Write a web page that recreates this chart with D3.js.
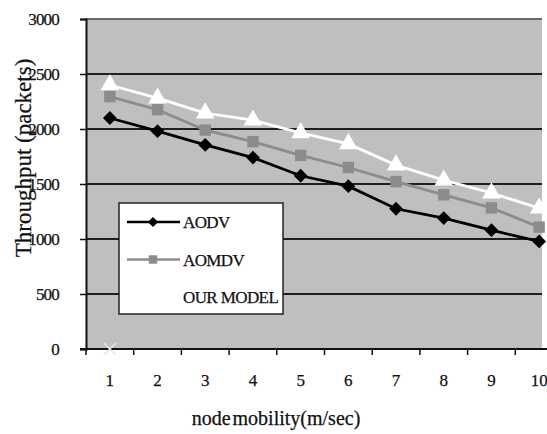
<!DOCTYPE html>
<meta charset="utf-8">
<style>
 body { margin: 0; background: #fff; }
 svg { display: block; }
 text { font-family: "Liberation Serif", "DejaVu Serif", serif; fill: #111; stroke: #111; stroke-width: 0.25px; }
</style>
<svg width="547" height="434"></svg>
<script src="https://d3js.org/d3.v7.min.js"></script>
<script>

 // values
 var mobility = [1, 2, 3, 4, 5, 6, 7, 8, 9, 10];
 var aodv     = [2100, 1980, 1855, 1740, 1575, 1480, 1275, 1190, 1080, 978];
 var aomdv    = [2295, 2175, 1990, 1885, 1760, 1650, 1522, 1402, 1283, 1108];
 var ourModel = [2400, 2280, 2145, 2080, 1965, 1865, 1672, 1535, 1418, 1280];
 var stray    = [0];   // faint leftover marker at x=1
 var yTicks   = [0, 500, 1000, 1500, 2000, 2500, 3000];
 var seriesNames = ["AODV", "AOMDV", "OUR MODEL"];

 var svg = d3.select("svg");

 var plotLeft = 86, plotTop = 19, plotBottom = 349, plotRight = 542;
 var step = 47.7;

 var x = d3.scaleBand()
           .domain(mobility)
           .range([plotLeft, plotLeft + step * mobility.length]);

 var y = d3.scaleLinear()
           .domain([0, 3000])
           .range([plotBottom, plotTop]);

 var cx = function(d, i) { return x(mobility[i]) + x.bandwidth() / 2; };

 // plot background
 svg.append("rect")
    .attr("x", plotLeft).attr("y", plotTop)
    .attr("width", plotRight - plotLeft).attr("height", plotBottom - plotTop)
    .attr("fill", "#bfbfbf");

 // gridlines
 svg.append("g")
    .selectAll("line")
    .data(yTicks.filter(function(d) { return d > 0; }))
    .enter().append("line")
    .attr("x1", plotLeft).attr("x2", plotRight)
    .attr("y1", function(d) { return y(d); })
    .attr("y2", function(d) { return y(d); })
    .attr("stroke", function(d) { return d === 3000 ? "#6a6a6a" : "#1e1e1e"; })
    .attr("stroke-width", 2);

 // y axis
 var yAxis = d3.axisLeft(y).tickValues(yTicks).tickSize(6).tickPadding(21)
               .tickFormat(d3.format("d"));
 var gy = svg.append("g")
             .attr("transform", "translate(" + plotLeft + ",0)")
             .call(yAxis);
 gy.select(".domain").attr("stroke", "#111").attr("stroke-width", 2);
 gy.selectAll(".tick line").attr("stroke", "#111").attr("stroke-width", 1.5);
 gy.selectAll("text").attr("font-size", 17).attr("fill", "#111")
   .attr("font-family", "Liberation Serif, serif").attr("letter-spacing", -0.8);

 // x axis labels (ticks drawn between categories below)
 var xAxis = d3.axisBottom(x).tickSize(0).tickPadding(25);
 var gx = svg.append("g")
             .attr("transform", "translate(0," + plotBottom + ")")
             .call(xAxis);
 gx.select(".domain").remove();
 gx.selectAll("text").attr("font-size", 17).attr("fill", "#111")
   .attr("font-family", "Liberation Serif, serif");

 svg.append("line")
    .attr("x1", plotLeft - 6).attr("x2", 547)
    .attr("y1", plotBottom).attr("y2", plotBottom)
    .attr("stroke", "#111").attr("stroke-width", 2);

 svg.append("g")
    .selectAll("line")
    .data(mobility)
    .enter().append("line")
    .attr("x1", function(d) { return x(d); })
    .attr("x2", function(d) { return x(d); })
    .attr("y1", plotBottom).attr("y2", plotBottom + 6)
    .attr("stroke", "#111").attr("stroke-width", 1.5);

 // faint stray marker
 svg.append("g")
    .selectAll("path")
    .data(stray)
    .enter().append("path")
    .attr("d", d3.symbol().type(d3.symbolX).size(90))
    .attr("transform", function(d, i) { return "translate(" + cx(d, i) + "," + y(d) + ")"; })
    .attr("stroke", "#e6e6e6").attr("stroke-width", 1.5).attr("fill", "none");

 var line = d3.line()
              .x(function(d, i) { return cx(d, i); })
              .y(function(d) { return y(d); });

 var series = [
   { name: seriesNames[2], values: ourModel, color: "#ffffff", shape: d3.symbolTriangle, size: 150, rot: 0 },
   { name: seriesNames[1], values: aomdv, color: "#8c8c8c", shape: d3.symbolSquare, size: 130, rot: 0 },
   { name: seriesNames[0], values: aodv, color: "#000000", shape: d3.symbolSquare, size: 95, rot: 45 }
 ];

 series.forEach(function(s) {
   svg.append("path")
      .datum(s.values)
      .attr("d", line)
      .attr("fill", "none")
      .attr("stroke", s.color)
      .attr("stroke-width", 2.8);

   svg.append("g")
      .selectAll("path")
      .data(s.values)
      .enter().append("path")
      .attr("d", d3.symbol().type(s.shape).size(s.size))
      .attr("transform", function(d, i) {
        return "translate(" + cx(d, i) + "," + y(d) + ") rotate(" + s.rot + ")";
      })
      .attr("fill", s.color);
 });

 // legend
 var legend = svg.append("g");
 legend.append("rect")
       .attr("x", 119).attr("y", 203)
       .attr("width", 164).attr("height", 111)
       .attr("fill", "#fff").attr("stroke", "#222").attr("stroke-width", 1.5);

 var legendRows = [series[2], series[1], series[0]];
 var rowY = d3.scalePoint().domain(seriesNames).range([222, 297]);

 legendRows.forEach(function(s) {
   var ly = rowY(s.name);
   legend.append("line")
         .attr("x1", 127).attr("x2", 180)
         .attr("y1", ly).attr("y2", ly)
         .attr("stroke", s.color).attr("stroke-width", 2.5);
   legend.append("path")
         .attr("d", d3.symbol().type(s.shape).size(s.size * 0.55))
         .attr("transform", "translate(153," + ly + ") rotate(" + s.rot + ")")
         .attr("fill", s.color);
   legend.append("text")
         .attr("x", 183).attr("y", ly + 6)
         .attr("font-size", 17)
         .attr("letter-spacing", -0.6)
         .text(s.name);
 });

 // axis titles
 svg.append("text")
    .attr("transform", "translate(31,158) rotate(-90)")
    .attr("text-anchor", "middle")
    .attr("font-size", 23)
    .text("Throughput (packets)");

 svg.append("text")
    .attr("x", 276).attr("y", 425)
    .attr("text-anchor", "middle")
    .attr("font-size", 20)
    .attr("word-spacing", -3)
    .text("node mobility(m/sec)");
</script>
